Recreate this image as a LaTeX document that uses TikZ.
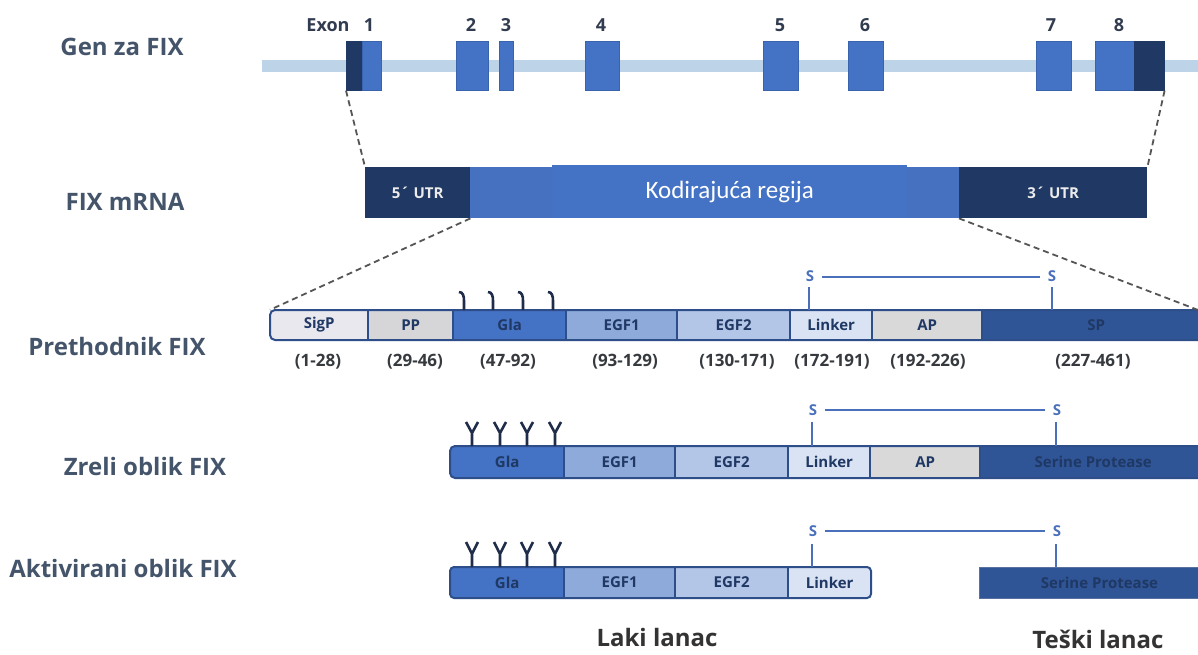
\documentclass[tikz,border=0pt]{standalone}
\usepackage{fontspec}
\setmainfont{Open Sans}
\newfontfamily\calib{Carlito}
\definecolor{genel}{HTML}{BCD3E8}
\definecolor{exonb}{HTML}{4472C4}
\definecolor{exone}{HTML}{3A63AD}
\definecolor{navy}{HTML}{1F3864}
\definecolor{codec}{HTML}{4671C1}
\definecolor{sigpc}{HTML}{E9E8EE}
\definecolor{ppc}{HTML}{D6D6D8}
\definecolor{glac}{HTML}{4472C4}
\definecolor{egfa}{HTML}{8EAADB}
\definecolor{egfb}{HTML}{B4C6E7}
\definecolor{linkc}{HTML}{DAE3F3}
\definecolor{apc}{HTML}{D9D9D9}
\definecolor{spc}{HTML}{2F5597}
\definecolor{bordc}{HTML}{2E4E8A}
\definecolor{lblc}{HTML}{44546A}
\definecolor{exlc}{HTML}{323C50}
\definecolor{txtn}{HTML}{1F3864}
\definecolor{dashc}{HTML}{555555}
\definecolor{ssc}{HTML}{4A70BC}
\definecolor{yc}{HTML}{1F2D4A}
\definecolor{botc}{HTML}{333333}
\begin{document}
\begin{tikzpicture}[x=1pt,y=-1pt,
  lbl/.style={font=\bfseries\fontsize{24}{24}\selectfont, text=lblc},
  exnum/.style={font=\bfseries\fontsize{18}{18}\selectfont, text=exlc},
  exon/.style={rectangle, fill=exonb, draw=exone, line width=0.6, inner sep=0, minimum height=49, anchor=north west},
  exond/.style={exon, fill=navy, draw=navy},
  mrna/.style={rectangle, inner sep=0, minimum height=51, anchor=north west, font=\bfseries\fontsize{15}{15}\selectfont, text=white!85!gray},
  seg/.style={rectangle, inner sep=0, anchor=west, font=\bfseries\fontsize{15}{15}\selectfont, text=txtn},
  rng/.style={font=\bfseries\fontsize{17}{17}\selectfont, text=botc!80!lblc},
  bord/.style={draw=bordc, line width=2},
  dsh/.style={draw=dashc, line width=1.8, dash pattern=on 6pt off 4pt},
  ss/.style={draw=ssc, line width=2.4},
  sl/.style={font=\bfseries\fontsize{15}{15}\selectfont, text=ssc, inner sep=0},
  ylink/.style={draw=yc, line width=2.6},
  bot/.style={font=\bfseries\fontsize{24}{24}\selectfont, text=botc, inner sep=1pt}]
\clip (0,0) rectangle (1198,655);
\fill[white] (0,0) rectangle (1198,655);
% ---- left labels
\node[lbl] (l1) at (122,47) {Gen za FIX};
\node[lbl] (l2) at (125,202) {FIX mRNA};
\node[lbl] (l3) at (117,346) {Prethodnik FIX};
\node[lbl] (l4) at (145,466) {Zreli oblik FIX};
\node[lbl] (l5) at (123,568) {Aktivirani oblik FIX};
% ---- gene
\coordinate (gl) at (262,66);
\coordinate (gr) at (1210,66);
\draw[genel, line width=12] (gl) -- (gr);
\node[exond, minimum width=16] (e1a) at (346,41) {};
\node[exon, minimum width=19] (e1b) at (362,41) {};
\node[exon, minimum width=32] (e2) at (456,41) {};
\node[exon, minimum width=14] (e3) at (499,41) {};
\node[exon, minimum width=34] (e4) at (585,41) {};
\node[exon, minimum width=35] (e5) at (763,41) {};
\node[exon, minimum width=35] (e6) at (848,41) {};
\node[exon, minimum width=35] (e7) at (1036,41) {};
\node[exon, minimum width=39] (e8a) at (1095,41) {};
\node[exond, minimum width=30] (e8b) at (1134,41) {};
\node[exnum] (xn0) at (328,25) {Exon};
\node[exnum] (xn1) at (369,25) {1};
\node[exnum] (xn2) at (471,25) {2};
\node[exnum] (xn3) at (506,25) {3};
\node[exnum] (xn4) at (601,25) {4};
\node[exnum] (xn5) at (780,25) {5};
\node[exnum] (xn6) at (865,25) {6};
\node[exnum] (xn7) at (1051,25) {7};
\node[exnum] (xn8) at (1119,25) {8};
% ---- mRNA
\node[mrna, fill=navy, minimum width=105] (utr5) at (365,167) {5´ UTR};
\node[mrna, fill=codec, minimum width=489] (cod) at (470,167) {};
\node[mrna, fill=navy, minimum width=188] (utr3) at (959,167) {3´ UTR};
\node[rectangle, inner sep=0, fill=exonb, minimum width=355, minimum height=53, anchor=north west, text=white, font=\calib\fontsize{25}{25}\selectfont] (kod) at (552,165) {Kodirajuća regija};
\draw[dsh] (e1a.south west) -- (utr5.north west);
\draw[dsh] (e8b.south east) -- (utr3.north east);
% ---- precursor
\begin{scope}
\clip[rounded corners=5] (270,310) rectangle (1230,340);
\node[seg, fill=sigpc, minimum width=98, minimum height=30] (sigp) at (270,325) {SigP};
\node[seg, fill=ppc, minimum width=85, minimum height=30] (pp) at (368,325) {PP};
\node[seg, fill=glac, minimum width=113, minimum height=30] (gla) at (453,325) {Gla};
\node[seg, fill=egfa, minimum width=111, minimum height=30] (egf1) at (566,325) {EGF1};
\node[seg, fill=egfb, minimum width=113, minimum height=30] (egf2) at (677,325) {EGF2};
\node[seg, fill=linkc, minimum width=82, minimum height=30] (lnk) at (790,325) {Linker};
\node[seg, fill=apc, minimum width=110, minimum height=30] (ap) at (872,325) {AP};
\node[seg, fill=spc, minimum width=228, minimum height=30] (sp) at (982,325) {SP};
\end{scope}
\draw[bord, rounded corners=5] (270,310) rectangle (1230,340);
\foreach \n in {pp,gla,egf1,egf2,lnk,ap,sp} \draw[bord] (\n.north west) -- (\n.south west);
\coordinate (pr) at (1198,310);
\draw[dsh] (utr5.south east) -- (sigp.north west);
\draw[dsh] (utr3.south west) -- (pr);
\node[rng] (r1) at (318,362) {(1-28)};
\node[rng] (r2) at (415,362) {(29-46)};
\node[rng] (r3) at (508,362) {(47-92)};
\node[rng] (r4) at (625,362) {(93-129)};
\node[rng] (r5) at (737,362) {(130-171)};
\node[rng] (r6) at (832,362) {(172-191)};
\node[rng] (r7) at (928,362) {(192-226)};
\node[rng] (r8) at (1093,362) {(227-461)};
\foreach \x in {464,493,523,553}
  \draw[ylink, line width=2.6] (\x-5,292) .. controls (\x-1,292) and (\x,296) .. (\x,301) -- (\x,310);
\node[sl] (ps1) at (810,276) {S};
\node[sl] (ps2) at (1052,276) {S};
\draw[ss] (809,287) -- (809,310);
\draw[ss] (1052,287) -- (1052,310);
\draw[ss] ([xshift=8pt,yshift=-1pt]ps1.east) -- ([xshift=-8pt,yshift=-1pt]ps2.west);
% ---- mature
\begin{scope}
\clip[rounded corners=5] (450,446) rectangle (1230,478);
\node[seg, fill=glac, minimum width=114, minimum height=32] (mgla) at (450,462) {Gla};
\node[seg, fill=egfa, minimum width=111, minimum height=32] (megf1) at (564,462) {EGF1};
\node[seg, fill=egfb, minimum width=113, minimum height=32] (megf2) at (675,462) {EGF2};
\node[seg, fill=linkc, minimum width=82, minimum height=32] (mlnk) at (788,462) {Linker};
\node[seg, fill=apc, minimum width=110, minimum height=32] (map) at (870,462) {AP};
\node[seg, fill=spc, minimum width=226, minimum height=32] (msp) at (980,462) {Serine Protease};
\end{scope}
\draw[bord, rounded corners=5] (450,446) rectangle (1230,478);
\foreach \n in {megf1,megf2,mlnk,map,msp} \draw[bord] (\n.north west) -- (\n.south west);
\foreach \x in {472,500,527,555}
  \draw[ylink] (\x,446) -- (\x,433) -- (\x-6,422) (\x,433) -- (\x+6,422);
\node[sl] (ms1) at (813,410) {S};
\node[sl] (ms2) at (1057,410) {S};
\draw[ss] (812,422) -- (812,446);
\draw[ss] (1056,422) -- (1056,446);
\draw[ss] ([xshift=8pt]ms1.east) -- ([xshift=-8pt]ms2.west);
% ---- activated
\begin{scope}
\clip[rounded corners=5] (450,567) rectangle (871,598);
\node[seg, fill=glac, minimum width=114, minimum height=31] (agla) at (450,582.5) {Gla};
\node[seg, fill=egfa, minimum width=111, minimum height=31] (aegf1) at (564,582.5) {EGF1};
\node[seg, fill=egfb, minimum width=113, minimum height=31] (aegf2) at (675,582.5) {EGF2};
\node[seg, fill=linkc, minimum width=83, minimum height=31] (alnk) at (788,582.5) {Linker};
\end{scope}
\draw[bord, rounded corners=4] (450,567) rectangle (871,598);
\foreach \n in {aegf1,aegf2,alnk} \draw[bord] (\n.north west) -- (\n.south west);
\node[seg, fill=spc, draw=bordc!80!white, line width=1, minimum width=240, minimum height=31] (asp) at (979,582.5) {Serine Protease};
\foreach \x in {472,500,527,555}
  \draw[ylink] (\x,567) -- (\x,554) -- (\x-6,542) (\x,554) -- (\x+6,542);
\node[sl] (as1) at (813,531) {S};
\node[sl] (as2) at (1057,531) {S};
\draw[ss] (812,544) -- (812,567);
\draw[ss] (1056,544) -- (1056,567);
\draw[ss] ([xshift=8pt]as1.east) -- ([xshift=-8pt]as2.west);
% ---- bottom labels
\node[bot] (laki) at (657,637) {Laki lanac};
\node[bot] (teski) at (1098,639) {Teški lanac};
\end{tikzpicture}
\end{document}
